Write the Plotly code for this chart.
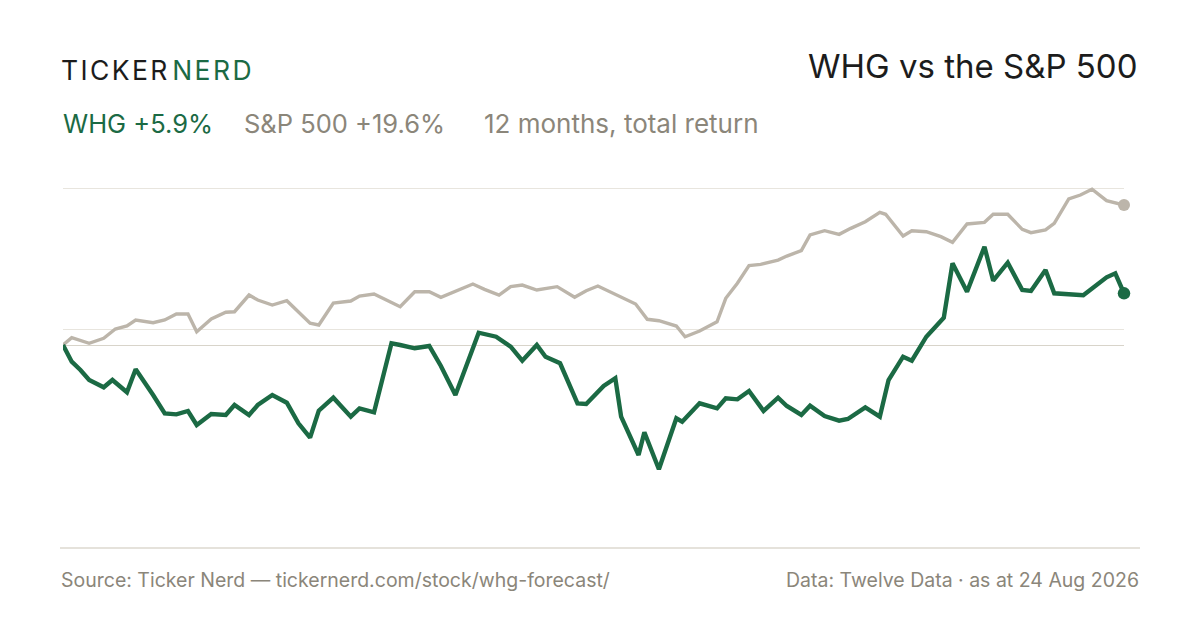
import datetime as dt
import plotly.graph_objects as go

START = dt.date(2025, 8, 24)

# S&P 500 cumulative return (%), day offsets from start
spx_days = [0, 3, 9, 14, 18, 22, 25, 31, 35, 39, 43, 46, 51, 56, 59, 64, 67, 72, 77, 81,
            85, 88, 93, 99, 102, 107, 116, 121, 126, 130, 136, 141, 145, 150, 154, 158, 163,
            170, 176, 180, 184, 189, 193, 197, 201, 205, 211, 214, 219, 225, 228, 232, 236,
            240, 246, 249, 254, 257, 262, 267, 271, 276, 281, 283, 289, 292, 297, 302, 306,
            311, 317, 320, 325, 330, 333, 338, 341, 346, 350, 354, 359, 365]
spx_vals = [0.00, 1.02, 0.24, 0.94, 2.24, 2.66, 3.50, 3.12, 3.50, 4.34, 4.34, 1.86, 3.64,
            4.58, 4.66, 7.00, 6.30, 5.60, 6.20, 4.66, 3.04, 2.80, 5.88, 6.16, 6.86, 7.14,
            5.36, 7.46, 7.46, 6.68, 7.70, 8.54, 7.80, 7.00, 8.17, 8.40, 7.70, 8.17, 6.68,
            7.61, 8.26, 7.32, 6.44, 5.74, 3.60, 3.40, 2.66, 1.16, 1.96, 3.26, 6.54, 8.64,
            11.11, 11.30, 11.90, 12.46, 13.21, 15.41, 16.01, 15.50, 16.34, 17.27, 18.59,
            18.31, 15.27, 16.01, 15.87, 15.17, 14.38, 16.95, 17.18, 18.31, 18.31, 16.20,
            15.73, 16.11, 17.04, 20.45, 21.01, 21.81, 20.21, 19.61]

# WHG cumulative return (%), day offsets from start
whg_days = [0, 3, 6, 9, 14, 17, 22, 25, 31, 35, 39, 43, 46, 51, 56, 59, 64, 67, 72, 77, 81,
            85, 88, 93, 99, 102, 107, 113, 116, 121, 126, 130, 135, 143, 149, 154, 158, 163,
            166, 171, 177, 180, 186, 190, 192, 198, 200, 205, 211, 213, 219, 225, 228, 232,
            236, 241, 246, 249, 254, 257, 262, 267, 270, 276, 281, 284, 289, 292, 297, 303,
            306, 311, 317, 320, 325, 330, 333, 338, 341, 351, 359, 362, 365]
whg_vals = [0.00, -2.34, -3.50, -4.90, -5.92, -4.90, -6.62, -3.40, -7.00, -9.57, -9.71,
            -9.24, -11.20, -9.66, -9.80, -8.40, -9.80, -8.40, -7.00, -8.08, -10.97, -12.98,
            -9.20, -7.38, -10.04, -8.87, -9.43, 0.24, 0.00, -0.46, -0.14, -2.94, -7.00, 1.72,
            1.16, -0.24, -2.20, 0.00, -1.64, -2.56, -8.17, -8.26, -5.74, -4.66, -10.04,
            -15.41, -12.23, -17.41, -10.27, -10.74, -8.17, -8.87, -7.46, -7.61, -6.44, -9.24,
            -7.38, -8.54, -9.80, -8.50, -9.94, -10.60, -10.36, -8.73, -10.04, -4.90, -1.64,
            -2.20, 1.16, 3.82, 11.44, 7.46, 13.77, 9.01, 11.53, 7.70, 7.56, 10.50, 7.24,
            6.96, 9.48, 10.04, 7.24]

grid_vals = [2.24, 21.85]

GREEN = "#1b6a44"
GREY_LINE = "#bcb5aa"
GREY_TEXT = "#8b867a"
FONT = "Inter"

spx_dates = [START + dt.timedelta(days=d) for d in spx_days]
whg_dates = [START + dt.timedelta(days=d) for d in whg_days]

fig = go.Figure()
fig.add_trace(go.Scatter(x=spx_dates, y=spx_vals, mode="lines",
                         line=dict(color=GREY_LINE, width=3.4), cliponaxis=False,
                         hoverinfo="skip", showlegend=False))
fig.add_trace(go.Scatter(x=whg_dates, y=whg_vals, mode="lines",
                         line=dict(color=GREEN, width=4.4), cliponaxis=False,
                         hoverinfo="skip", showlegend=False))
fig.add_trace(go.Scatter(x=[spx_dates[-1]], y=[spx_vals[-1]], mode="markers",
                         marker=dict(color=GREY_LINE, size=12), cliponaxis=False,
                         hoverinfo="skip", showlegend=False))
fig.add_trace(go.Scatter(x=[whg_dates[-1]], y=[whg_vals[-1]], mode="markers",
                         marker=dict(color=GREEN, size=12.5), cliponaxis=False,
                         hoverinfo="skip", showlegend=False))

# page pixel -> paper coordinates (plot area spans page x 63..1124, y 180..500)
def px_x(p):
    return (p - 63) / 1061

def px_y(p):
    return (500 - p) / 320

hs = "\u200a"
ticker = hs.join("TICKER")
nerd = hs.join("NERD")

ann = [
    dict(text=f"<span style='color:#1c1c1c'>{ticker}</span>\u2009<span style='color:{GREEN}'>{nerd}</span>",
         x=px_x(59), y=px_y(70), xanchor="left", yanchor="middle",
         font=dict(family=FONT, size=26.5, color="#1c1c1c")),
    dict(text="WHG vs the S&P 500", x=px_x(1140), y=px_y(66), xanchor="right", yanchor="middle",
         font=dict(family=FONT, size=33, color="#1c1c1c")),
    dict(text="WHG +5.9%", x=px_x(61), y=px_y(124), xanchor="left", yanchor="middle",
         font=dict(family=FONT, size=25.5, color=GREEN)),
    dict(text="S&P 500 +19.6%", x=px_x(242), y=px_y(124), xanchor="left", yanchor="middle",
         font=dict(family=FONT, size=25.5, color=GREY_TEXT)),
    dict(text="12 months, total return", x=px_x(482), y=px_y(124), xanchor="left", yanchor="middle",
         font=dict(family=FONT, size=26, color=GREY_TEXT)),
    dict(text="Source: Ticker Nerd \u2014 tickernerd.com/stock/whg-forecast/", x=px_x(59), y=px_y(580),
         xanchor="left", yanchor="middle", font=dict(family=FONT, size=19.5, color=GREY_TEXT)),
    dict(text="Data: Twelve Data \u00b7 as at 24 Aug 2026", x=px_x(1141), y=px_y(580),
         xanchor="right", yanchor="middle", font=dict(family=FONT, size=19.5, color=GREY_TEXT)),
]
for a in ann:
    a.update(xref="paper", yref="paper", showarrow=False)

fig.update_layout(
    width=1192, height=622,
    margin=dict(l=55, r=76, t=172, b=130),
    paper_bgcolor="white", plot_bgcolor="white",
    annotations=ann,
    shapes=[dict(type="line", xref="paper", yref="paper", x0=px_x(60), x1=px_x(1140),
                 y0=px_y(548), y1=px_y(548), line=dict(color="#dcd8cf", width=1.5))],
    xaxis=dict(range=[START, START + dt.timedelta(days=365)], showgrid=False,
               showticklabels=False, zeroline=False, showline=False, ticks=""),
    yaxis=dict(range=[(345 - 500) / 7.14, (345 - 180) / 7.14], tickvals=grid_vals,
               showgrid=True, gridcolor="#e8e5de", gridwidth=1.2, showticklabels=False,
               zeroline=True, zerolinecolor="#d8d4ca", zerolinewidth=1.2, showline=False, ticks=""),
)

fig.write_html("out.html")
